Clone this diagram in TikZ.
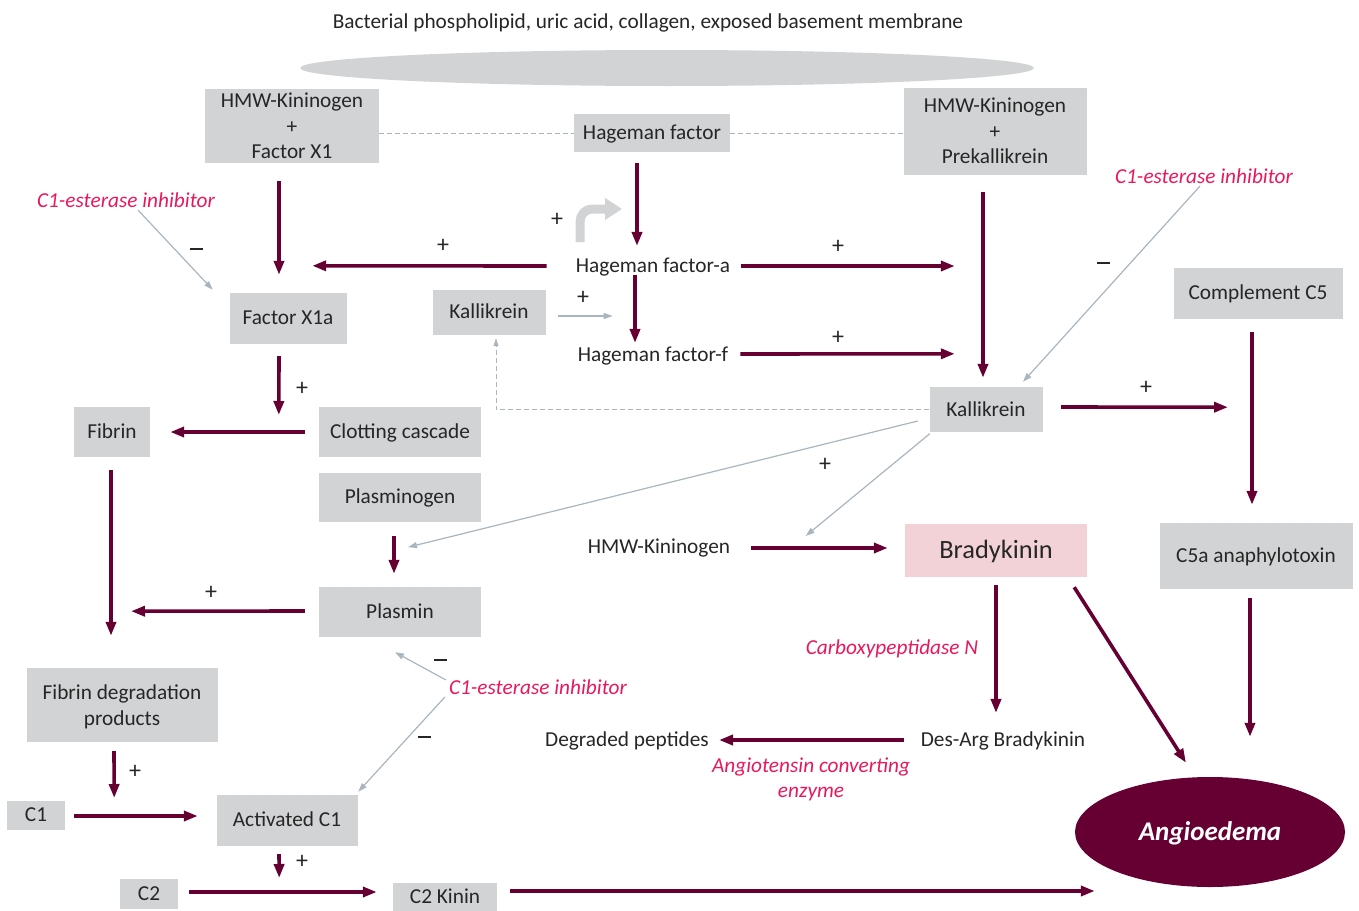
\documentclass[tikz,border=0pt]{standalone}
\usepackage{fontspec}
\setmainfont{Carlito}
\usetikzlibrary{arrows.meta,calc,shapes.geometric}
\definecolor{maroonc}{HTML}{660033}
\definecolor{boxgrey}{HTML}{D1D3D4}
\definecolor{pinkbox}{HTML}{F2D2D7}
\definecolor{redtxt}{HTML}{E8185C}
\definecolor{greyarr}{HTML}{A9B5BF}
\definecolor{txt}{HTML}{262626}
\newcommand\fs{\fontsize{21.3}{25.5}\selectfont}
\begin{document}
\begin{tikzpicture}[x=1pt,y=-1pt,
  box/.style={fill=boxgrey,text=txt,inner sep=0pt,font=\fs,align=center},
  one/.style={text height=13.7pt,text depth=0pt},
  lbl/.style={text=txt,inner sep=0pt,font=\fs,one},
  redl/.style={text=redtxt,inner sep=0pt,font=\fs\itshape,align=center},
  sgn/.style={text=txt,inner sep=0pt,font=\fontsize{24}{26}\selectfont,text height=12pt,text depth=0pt},
  minus/.style={fill=txt,inner sep=0pt,minimum width=13pt,minimum height=1.8pt},
  arr/.style={draw=maroonc,line width=3.6pt,-{Triangle[length=14pt,width=10pt]}},
  garr/.style={draw=greyarr,line width=1.2pt,-{Triangle[length=9pt,width=6pt]}},
  dsh/.style={draw=greyarr,line width=1pt,dash pattern=on 5pt off 3pt}]
\useasboundingbox (0,0) rectangle (1359,910);

% nodes
\node[lbl] (top) at (648,21.5) {Bacterial phospholipid, uric acid, collagen, exposed basement membrane};
\node[ellipse,fill=boxgrey,minimum width=734,minimum height=36,inner sep=0pt] (surf) at (667,68) {};
\node[box,minimum width=174,minimum height=74] (hkfx) at (292,126) {HMW-Kininogen\\+\\Factor X1};
\node[box,one,minimum width=156,minimum height=38] (hag) at (652,133) {Hageman factor};
\node[box,minimum width=183,minimum height=87] (hkpk) at (995,131) {HMW-Kininogen\\+\\Prekallikrein};
\node[redl,one] (c1a) at (126,201) {C1-esterase inhibitor};
\node[redl,one] (c1b) at (1204,177) {C1-esterase inhibitor};
\node[redl,one] (c1c) at (538,688) {C1-esterase inhibitor};
\node[box,one,minimum width=117,minimum height=51] (fx1a) at (288,318) {Factor X1a};
\node[lbl] (hfa) at (653,266) {Hageman factor-a};
\node[lbl] (hff) at (653,355) {Hageman factor-f};
\node[box,one,minimum width=113,minimum height=45] (kal1) at (489,312) {Kallikrein};
\node[box,one,minimum width=113,minimum height=45] (kal2) at (986,409.5) {Kallikrein};
\node[box,one,minimum width=169,minimum height=51] (c5) at (1258,293) {Complement C5};
\node[box,one,minimum width=193,minimum height=66] (c5a) at (1256,556) {C5a anaphylotoxin};
\node[box,one,minimum width=76,minimum height=50] (fib) at (112,432) {Fibrin};
\node[box,one,minimum width=162,minimum height=50] (clot) at (400,432) {Clotting cascade};
\node[box,one,minimum width=162,minimum height=49] (plg) at (400,497) {Plasminogen};
\node[box,one,minimum width=162,minimum height=50] (pls) at (400,612) {Plasmin};
\node[lbl] (hk) at (659,547) {HMW-Kininogen};
\node[fill=pinkbox,text=txt,inner sep=0pt,minimum width=182,minimum height=53,font=\fontsize{26.4}{30}\selectfont,text height=17pt,text depth=0pt] (bk) at (996,550) {Bradykinin};
\node[redl,one] (cpn) at (892,648) {Carboxypeptidase N};
\node[lbl] (dab) at (1003,740) {Des-Arg Bradykinin};
\node[lbl] (dp) at (627,740) {Degraded peptides};
\node[redl] (ace) at (811,779.5) {Angiotensin converting\\enzyme};
\node[ellipse,fill=maroonc,text=white,inner sep=0pt,minimum width=270,minimum height=110,font=\fontsize{27}{30}\selectfont\bfseries\itshape,text height=17.4pt,text depth=0pt] (ae) at (1210,832) {Angioedema};
\node[box,minimum width=191,minimum height=74,text depth=-2pt] (fdp) at (122,705) {Fibrin degradation\\products};
\node[box,one,minimum width=58,minimum height=29] (c1) at (36,815) {C1};
\node[box,one,minimum width=141,minimum height=51] (ac1) at (287,820) {Activated C1};
\node[box,one,minimum width=58,minimum height=30] (c2) at (149,894) {C2};
\node[box,minimum width=104,minimum height=29,text height=13.7pt,text depth=-2pt] (c2k) at (445,897) {C2 Kinin};

% signs
\node[minus] (m1) at (196,249) {};
\node[sgn] (p1) at (443,246) {+};
\node[sgn] (p2) at (557,220) {+};
\node[sgn] (p3) at (583,298) {+};
\node[sgn] (p4) at (838,247) {+};
\node[sgn] (p5) at (838,338) {+};
\node[minus] (m2) at (1103,263) {};
\node[sgn] (p6) at (1146,388) {+};
\node[sgn] (p7) at (302,389) {+};
\node[sgn] (p8) at (211,593) {+};
\node[sgn] (p9) at (825,465) {+};
\node[minus] (m3) at (440,660) {};
\node[minus] (m4) at (424,737) {};
\node[sgn] (p10) at (135,772) {+};
\node[sgn] (p11) at (302,862) {+};

% dashed links
\draw[dsh] (hkfx.east |- hag.west) -- (hag.west);
\draw[dsh] (hag.east) -- (hag.east -| hkpk.west);
\draw[dsh,-{Triangle[length=8pt,width=5pt]}] (kal2.west) -| ($(kal1.south)+(7,3.5)$);

% curved grey arrow
\draw[draw=boxgrey,line width=9pt,-{Triangle[length=17pt,width=21pt]}] (580,242) -- (580,222) to[out=90,in=180] (592,209) -- (622,209);

% maroon arrows
\draw[arr] ($(hkfx.south)+(-13,18)$) -- ($(fx1a.north)+(-9,-17.5)$);
\draw[arr] ($(hag.south)+(-15,11)$) -- ($(hfa.north)+(-16,-13)$);
\draw[arr] ($(hfa.west)+(-29,0)$) -- ($(fx1a.north east)+(-34.5,-26.5)$);
\draw[arr] ($(hfa.south)+(-18,2)$) -- ($(hff.north)+(-18,-5)$);
\draw[arr] ($(hfa.east)+(10.3,0)$) -- ($(hkpk.west)+(51.5,135)$);
\draw[arr] ($(hff.east)+(12,-1)$) -- ($(kal2.north west)+(25.5,-33)$);
\draw[arr] ($(hkpk.south)+(-12,17.5)$) -- ($(kal2.north)+(-3,-9)$);
\draw[arr] ($(kal2.east)+(18.5,-2.5)$) -- ($(c5.south)+(-30,88.5)$);
\draw[arr] ($(c5.south)+(-6,13.5)$) -- ($(c5a.north)+(-4,-18)$);
\draw[arr] ($(c5a.south)+(-6,9)$) -- ($(ae.north)+(40,-40)$);
\draw[arr] ($(fx1a.south)+(-9,12.5)$) -- ($(clot.west)+(-40,-17)$);
\draw[arr] ($(clot.west)+(-14,0)$) -- ($(fib.east)+(20,0)$);
\draw[arr] ($(plg.south)+(-6,14.5)$) -- ($(pls.north)+(-6,-13)$);
\draw[arr] ($(pls.west)+(-14,-1)$) -- ($(fib.south)+(19,154)$);
\draw[arr] ($(fib.south)+(-1,13)$) -- ($(fdp.north)+(-11,-32)$);
\draw[arr] ($(hk.east)+(20.4,1)$) -- ($(bk.west)+(-17,-2)$);
\draw[arr] ($(bk.south)+(0,8.5)$) -- ($(dab.north)+(-7,-20)$);
\draw[arr] ($(bk.south east)+(-13,10.5)$) -- ($(ae.north)+(-24,-14)$);
\draw[arr] ($(dab.west)+(-16.6,0)$) -- ($(dp.east)+(10,0)$);
\draw[arr] ($(fdp.south)+(-8,9)$) -- ($(c1.east)+(49,-17)$);
\draw[arr] ($(c1.east)+(9,1)$) -- ($(ac1.west)+(-18.5,-4)$);
\draw[arr] ($(ac1.south)+(-8,8.5)$) -- ($(c2.east)+(101,-16)$);
\draw[arr] ($(c2.east)+(11,-2)$) -- ($(c2k.west)+(-16,-5)$);
\draw[arr] ($(c2k.east)+(13,-6)$) -- ($(ae.west)+(20,59)$);

% grey arrows
\draw[garr] ($(c1a.south)+(12,2)$) -- ($(fx1a.north west)+(-16.5,-2.5)$);
\draw[garr] ($(kal1.east)+(12.5,4)$) -- ($(hff.west)+(35,-39)$);
\draw[garr] ($(c1b.south)+(-4,2)$) -- ($(kal2.north)+(37,-5)$);
\draw[garr] ($(kal2.west)+(-11.5,11.5)$) -- ($(plg.south)+(8,25.5)$);
\draw[garr] ($(kal2.south west)+(0.5,1.5)$) -- ($(hk.east)+(75.4,-11)$);
\draw[garr] ($(c1c.north west)+(-3,-1)$) -- ($(pls.south)+(-5,15)$);
\draw[garr] ($(c1c.south west)+(-4,2)$) -- ($(ac1.north east)+(0.5,-2.5)$);
\end{tikzpicture}
\end{document}
